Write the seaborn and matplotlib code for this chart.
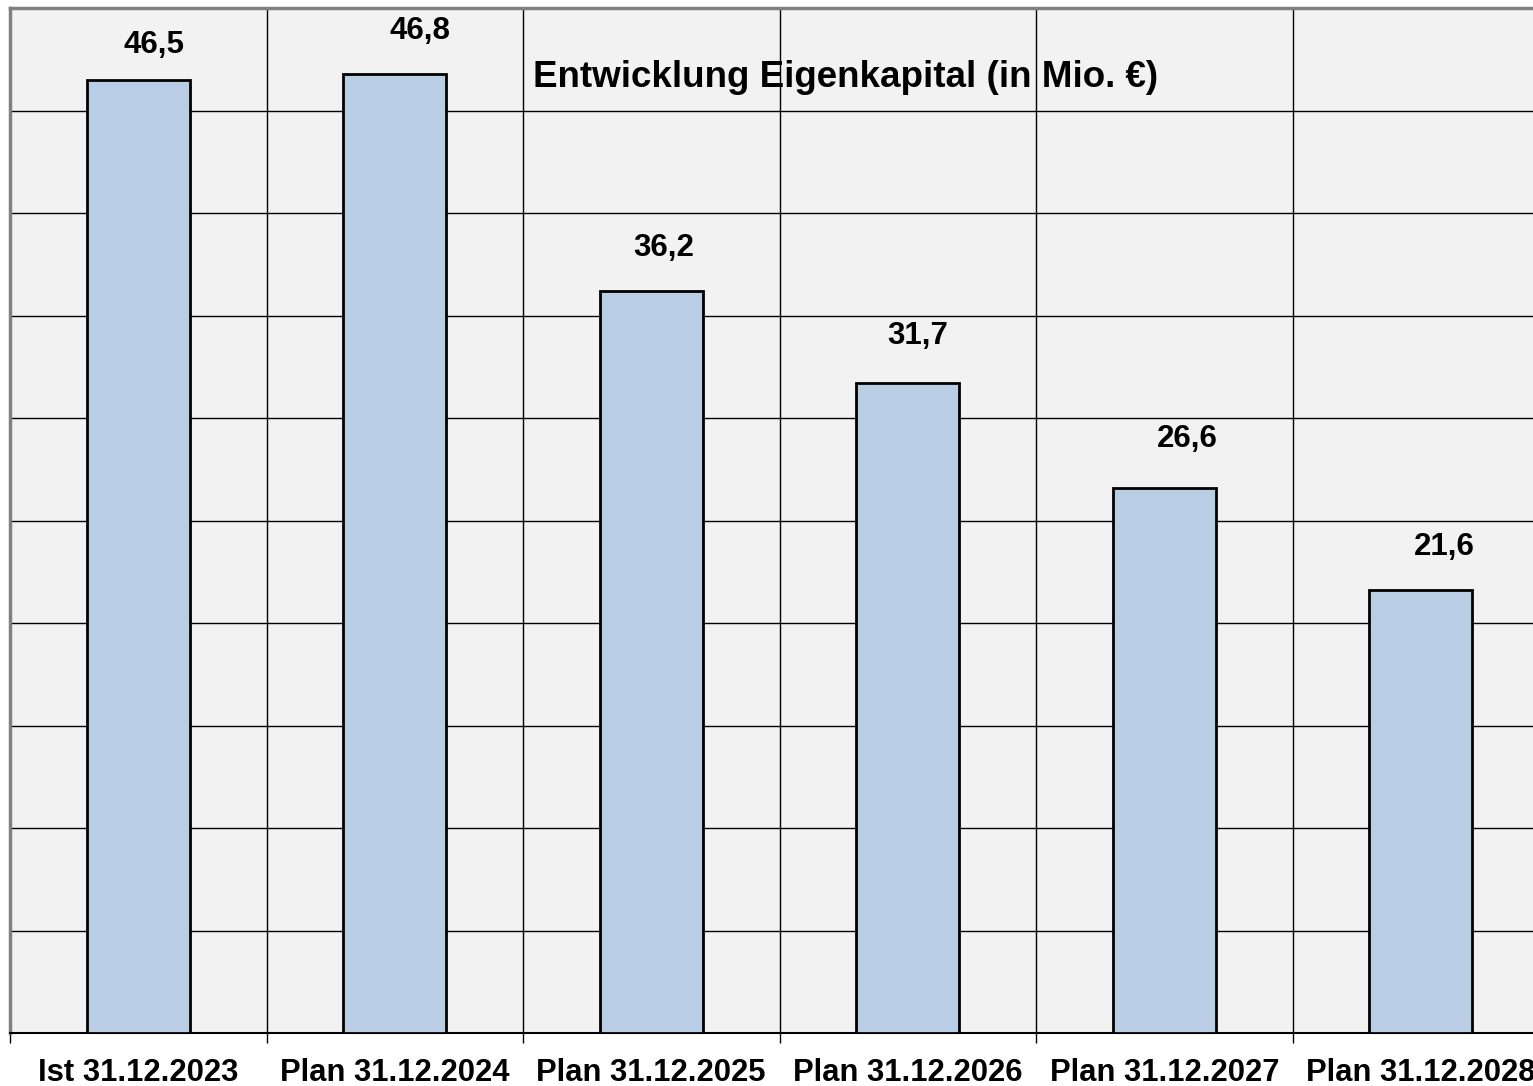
import numpy as np
import pandas as pd
import matplotlib
matplotlib.use("Agg")
import matplotlib.pyplot as plt
import seaborn as sns

# data
categories = ["Ist 31.12.2023", "Plan 31.12.2024", "Plan 31.12.2025",
              "Plan 31.12.2026", "Plan 31.12.2027", "Plan 31.12.2028"]
equity = [46.5, 46.8, 36.2, 31.7, 26.6, 21.6]
value_labels = ["46,5", "46,8", "36,2", "31,7", "26,6", "21,6"]
y_ticks = np.arange(0, 55, 5)

# label placement relative to bar top (layout only)
label_dx = [0.06, 0.10, 0.05, 0.04, 0.09, 0.09]
label_dy = [1.7, 2.1, 2.1, 2.3, 2.4, 2.1]

sns.set_style("white")
plt.rcParams["font.family"] = ["Liberation Sans", "DejaVu Sans"]
plt.rcParams["text.color"] = "black"
plt.rcParams["xtick.color"] = "black"
plt.rcParams["xtick.labelcolor"] = "black"

df = pd.DataFrame({"cat": categories, "val": equity})

fig = plt.figure(figsize=(15.33, 10.86), dpi=100)
# plot area runs slightly past the right edge, like the original screenshot
ax = fig.add_axes([10 / 1533, 53 / 1086, 1539 / 1533, 1025 / 1086])
ax.set_facecolor("#F2F2F2")

sns.barplot(data=df, x="cat", y="val", color="#B9CDE5", saturation=1,
            width=0.4, edgecolor="black", linewidth=2, ax=ax, zorder=3)

ax.set_xlim(-0.5, 5.5)
ax.set_ylim(0, 50)
ax.set_yticks(y_ticks)
ax.set_yticklabels([])
ax.set_xticks(np.arange(-0.5, 6, 1), minor=True)
ax.grid(True, axis="y", which="major", color="black", linewidth=1, zorder=1)
ax.grid(True, axis="x", which="minor", color="black", linewidth=1, zorder=1)
ax.set_axisbelow(True)

ax.tick_params(axis="y", length=0)
ax.tick_params(axis="x", which="major", bottom=True, length=0, pad=18,
               labelsize=22.3, labelcolor="black")
ax.tick_params(axis="x", which="minor", bottom=True, length=7, width=1,
               color="black", direction="out")
for lbl in ax.get_xticklabels():
    lbl.set_fontweight("bold")
ax.set_xlabel("")
ax.set_ylabel("")

for side in ["top", "left"]:
    ax.spines[side].set_color("#808080")
    ax.spines[side].set_linewidth(2.5)
ax.spines["bottom"].set_color("black")
ax.spines["bottom"].set_linewidth(1.5)
ax.spines["right"].set_visible(False)

for i, (v, txt) in enumerate(zip(equity, value_labels)):
    ax.text(i + label_dx[i], v + label_dy[i], txt, ha="center", va="center",
            fontsize=22.5, fontweight="bold", color="black", zorder=4)

ax.text(0.543, 0.932, "Entwicklung Eigenkapital (in Mio. €)",
        transform=ax.transAxes, ha="center", va="center",
        fontsize=26.5, fontweight="bold", color="black", zorder=4)

fig.savefig("out.png", dpi=100)
plt.close(fig)
